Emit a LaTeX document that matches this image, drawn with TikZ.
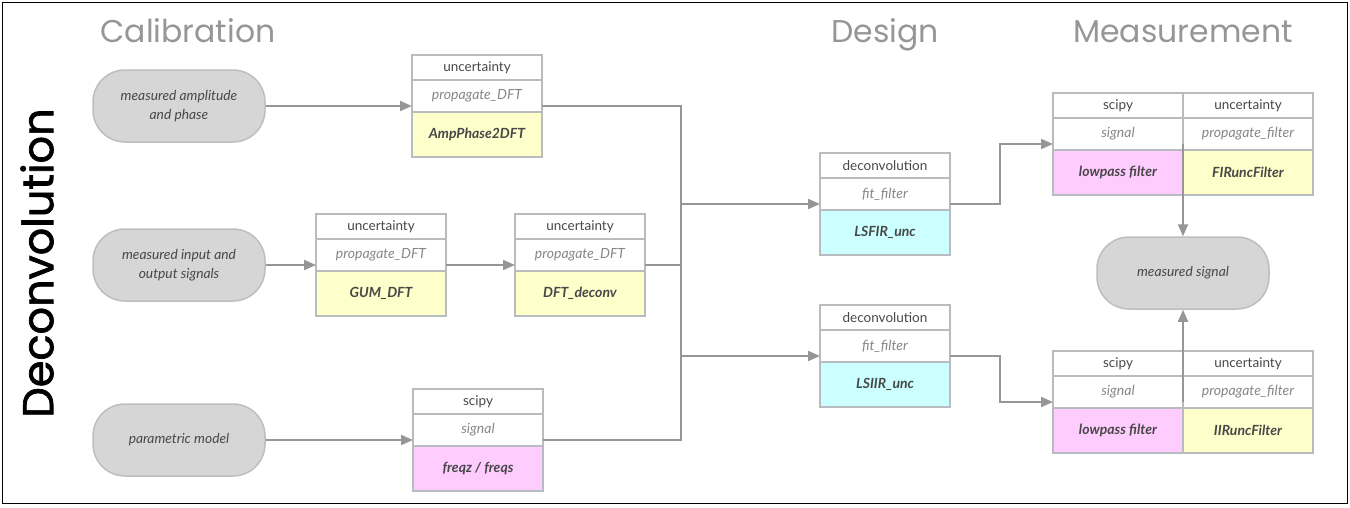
\documentclass[tikz,border=0pt]{standalone}
\usepackage{fontspec}
\setmainfont{Lato}
\newfontfamily\headfont{Poppins}
\newfontfamily\sidefont[FakeBold=1.6]{Poppins}
\usetikzlibrary{arrows.meta,positioning}
\definecolor{pillgray}{RGB}{214,214,214}
\definecolor{pilledge}{RGB}{188,190,192}
\definecolor{celledge}{RGB}{184,188,191}
\definecolor{linkgray}{RGB}{150,150,150}
\definecolor{headgray}{RGB}{150,150,150}
\definecolor{fnyellow}{RGB}{255,255,204}
\definecolor{fnpink}{RGB}{255,204,255}
\definecolor{fncyan}{RGB}{204,255,255}
\definecolor{txtdark}{RGB}{72,72,72}
\definecolor{txtgray}{RGB}{135,135,135}

\begin{document}
\begin{tikzpicture}[x=1pt,y=-1pt,
  pill/.style={draw=pilledge, line width=1.5pt, fill=pillgray, rounded corners=32pt,
    minimum width=172pt, minimum height=72pt, inner sep=0pt, align=center,
    font=\fontsize{13.8}{18.5}\selectfont\itshape, text=txtdark},
  libcell/.style={draw=celledge, line width=2pt, fill=white, minimum width=130pt,
    minimum height=25pt, inner sep=0pt, outer sep=0pt,
    font=\fontsize{13.5}{15}\selectfont, text=txtdark},
  modcell/.style={libcell, minimum height=32pt, font=\fontsize{14}{15}\selectfont\itshape, text=txtgray},
  funcell/.style={libcell, minimum height=45pt, fill=#1, font=\fontsize{14}{15}\selectfont\bfseries\itshape},
  link/.style={draw=linkgray, line width=2pt},
  arr/.style={link, -{Triangle[length=12pt,width=10pt]}},
  stage/.style={font=\headfont\fontsize{31.5}{36}\selectfont, text=headgray, anchor=base}]
\useasboundingbox (0,0) rectangle (1350,507);
\draw[black, line width=1.2pt] (2.5,2.5) rectangle (1347.5,503.5);
% Stage titles
\node[stage] (calib) at (188,42) {Calibration};
\node[stage] (design) at (885,42) {Design};
\node[stage] (measure) at (1183,42) {Measurement};
\node[rotate=90, font=\sidefont\fontsize{43}{48}\selectfont] (deconv) at (37,263) {Deconvolution};
% Input and output data
\node[pill] (ampin) at (179,106) {measured amplitude\\and phase};
\node[pill] (ioin) at (179,265) {measured input and\\output signals};
\node[pill] (model) at (179,440) {parametric model};
\node[pill] (meas) at (1183,273) {measured signal};
% Library / module / function boxes
\foreach \n/\x/\y/\lib/\mod/\fun/\col in {
  amp/477/55/uncertainty/propagate\_DFT/AmpPhase2DFT/fnyellow,
  gum/381/214/uncertainty/propagate\_DFT/GUM\_DFT/fnyellow,
  dft/580/214/uncertainty/propagate\_DFT/DFT\_deconv/fnyellow,
  freqz/478/389/scipy/signal/{freqz / freqs}/fnpink,
  lsfir/885/153/deconvolution/fit\_filter/LSFIR\_unc/fncyan,
  lsiir/885/305/deconvolution/fit\_filter/LSIIR\_unc/fncyan} {
  \node[libcell, anchor=north] (\n-lib) at (\x,\y) {\lib};
  \node[modcell, below=0pt of \n-lib] (\n-mod) {\mod};
  \node[funcell=\col, below=0pt of \n-mod] (\n-fun) {\fun};
  \coordinate (\n) at (\x,{\y+51});
}
% Filter boxes (two columns)
\foreach \n/\y/\filt in {firf/93/FIRuncFilter, iirf/351/IIRuncFilter} {
  \node[libcell, anchor=north] (\n-lib1) at (1118,\y) {scipy};
  \node[libcell, right=0pt of \n-lib1] (\n-lib2) {uncertainty};
  \node[modcell, below=0pt of \n-lib1] (\n-mod1) {signal};
  \node[modcell, below=0pt of \n-lib2] (\n-mod2) {propagate\_filter};
  \node[funcell=fnpink, below=0pt of \n-mod1] (\n-fun1) {lowpass filter};
  \node[funcell=fnyellow, below=0pt of \n-mod2] (\n-fun2) {\filt};
  \coordinate (\n) at (1183,{\y+51});
}
% Calibration connectors
\draw[arr] (ampin) -- (ampin -| amp-mod.west);
\draw[arr] (ioin) -- (ioin -| gum-mod.west);
\draw[arr] (gum -| gum-mod.east) -- (dft -| dft-mod.west);
\draw[arr] (model) -- (model -| freqz-mod.west);
% Bus to design
\coordinate (bus) at (681,0);
\draw[link] (amp -| amp-mod.east) -| (bus |- freqz) -- (freqz -| freqz-mod.east);
\draw[link] (dft -| dft-mod.east) -- (bus |- dft);
\draw[arr] (bus |- lsfir) -- (lsfir -| lsfir-mod.west);
\draw[arr] (bus |- lsiir) -- (lsiir -| lsiir-mod.west);
% Design to measurement
\coordinate (split) at (1000,0);
\draw[arr] (lsfir -| lsfir-mod.east) -| (split |- firf) -- (firf -| firf-mod1.west);
\draw[arr] (lsiir -| lsiir-mod.east) -| (split |- iirf) -- (iirf -| iirf-mod1.west);
\draw[arr] (firf) -- (meas);
\draw[arr] (iirf) -- (meas);
\end{tikzpicture}
\end{document}
